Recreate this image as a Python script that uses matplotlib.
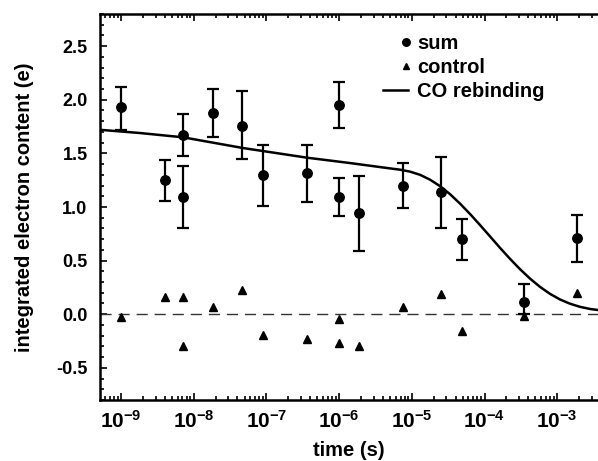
import matplotlib.pyplot as plt
from matplotlib.legend_handler import HandlerLine2D
from matplotlib.ticker import FixedLocator, MultipleLocator, LogLocator, NullFormatter
import numpy as np

plt.rcParams['font.family'] = ['Liberation Sans', 'DejaVu Sans']
plt.rcParams['font.weight'] = 'bold'
plt.rcParams['mathtext.fontset'] = 'custom'
plt.rcParams['mathtext.rm'] = 'Liberation Sans:bold'
plt.rcParams['mathtext.default'] = 'rm'

# sum of electron content, with error bars
sum_t = [1.0e-9, 4.0e-9, 7.1e-9, 7.1e-9, 1.84e-8, 4.6e-8, 9.0e-8, 3.6e-7,
         1.0e-6, 1.0e-6, 1.9e-6, 7.6e-6, 2.5e-5, 4.9e-5, 3.5e-4, 1.87e-3]
sum_y = [1.93, 1.25, 1.67, 1.09, 1.88, 1.76, 1.30, 1.32,
         1.95, 1.09, 0.94, 1.20, 1.14, 0.70, 0.11, 0.71]
sum_lo = [1.72, 1.06, 1.48, 0.80, 1.65, 1.45, 1.01, 1.05,
          1.74, 0.92, 0.59, 0.99, 0.80, 0.51, 0.00, 0.49]
sum_hi = [2.12, 1.44, 1.87, 1.38, 2.10, 2.08, 1.58, 1.58,
          2.17, 1.27, 1.29, 1.41, 1.47, 0.89, 0.28, 0.93]

# control measurements
ctrl_t = [1.0e-9, 4.0e-9, 7.1e-9, 7.1e-9, 1.84e-8, 4.6e-8, 9.0e-8, 3.6e-7,
          1.0e-6, 1.0e-6, 1.9e-6, 7.6e-6, 2.5e-5, 4.9e-5, 3.5e-4, 1.87e-3]
ctrl_y = [-0.03, 0.16, 0.16, -0.30, 0.07, 0.23, -0.19, -0.23,
          -0.04, -0.27, -0.30, 0.07, 0.19, -0.16, -0.02, 0.20]

# CO rebinding curve
co_t = [5.14e-10, 1.82e-9, 7.13e-9, 4.76e-8, 3.61e-7, 1.41e-6, 5.01e-6,
        6.88e-6, 9.44e-6, 1.30e-5, 1.78e-5, 2.44e-5, 3.35e-5, 4.60e-5,
        6.32e-5, 8.67e-5, 1.19e-4, 1.63e-4, 2.24e-4, 3.08e-4, 4.23e-4,
        5.80e-4, 7.96e-4, 1.09e-3, 1.50e-3, 2.06e-3, 2.83e-3, 3.64e-3]
co_y = [1.72, 1.69, 1.65, 1.55, 1.46, 1.41, 1.36,
        1.348, 1.330, 1.300, 1.255, 1.195, 1.12, 1.032,
        0.935, 0.832, 0.726, 0.62, 0.517, 0.42, 0.332,
        0.255, 0.19, 0.138, 0.098, 0.069, 0.049, 0.039]

x_major = [1e-9, 1e-8, 1e-7, 1e-6, 1e-5, 1e-4, 1e-3]
x_labels = [r'$10^{-9}$', r'$10^{-8}$', r'$10^{-7}$', r'$10^{-6}$',
            r'$10^{-5}$', r'$10^{-4}$', r'$10^{-3}$']


class RightMarker(HandlerLine2D):
    # marker-only handle: put the single marker at the right end of the handle
    def get_xdata(self, legend, xdescent, ydescent, width, height, fontsize):
        x = -xdescent + width - 1
        return np.array([x, x]), np.array([x])


fig = plt.figure(figsize=(5.98, 4.61), dpi=100)
ax = fig.add_axes([100 / 598, 1 - 400 / 461, 498 / 598, 386 / 461])

ax.axhline(0, color='#333333', lw=1.0, dashes=(8, 5))

co_line, = ax.plot(co_t, co_y, color='black', lw=1.8, solid_joinstyle='round')

yerr = [np.array(sum_y) - np.array(sum_lo), np.array(sum_hi) - np.array(sum_y)]
sum_pts = ax.errorbar(sum_t, sum_y, yerr=yerr, fmt='o', color='black', ms=6.8,
                      elinewidth=1.6, capsize=4, capthick=1.6)
ctrl_pts, = ax.plot(ctrl_t, ctrl_y, '^', color='black', ms=6, ls='none')

ax.set_xscale('log')
ax.set_xlim(5.14e-10, 3.64e-3)
ax.set_ylim(-0.8, 2.8)

ax.xaxis.set_major_locator(FixedLocator(x_major))
ax.set_xticklabels(x_labels)
ax.xaxis.set_minor_locator(LogLocator(base=10, subs=np.arange(2, 10), numticks=20))
ax.xaxis.set_minor_formatter(NullFormatter())
ax.yaxis.set_major_locator(FixedLocator([-0.5, 0.0, 0.5, 1.0, 1.5, 2.0, 2.5]))
ax.yaxis.set_minor_locator(MultipleLocator(0.1))
ax.set_yticklabels(['-0.5', '0.0', '0.5', '1.0', '1.5', '2.0', '2.5'])

ax.tick_params(which='both', direction='in', top=True, right=False, width=1.2)
ax.tick_params(which='major', length=5)
ax.tick_params(which='minor', length=3)
ax.tick_params(axis='y', which='major', labelsize=13, pad=9)
ax.tick_params(axis='x', which='major', labelsize=15, pad=7)
for s in ['left', 'bottom', 'top']:
    ax.spines[s].set_linewidth(1.8)
ax.spines['right'].set_visible(False)

ax.set_xlabel('time (s)', fontsize=14.5, fontweight='bold', labelpad=7)
ax.set_ylabel('integrated electron content (e)', fontsize=14.5, fontweight='bold', labelpad=16)

leg = ax.legend([sum_pts[0], ctrl_pts, co_line], ['sum', 'control', 'CO rebinding'],
                handler_map={sum_pts[0]: RightMarker(numpoints=1), ctrl_pts: RightMarker(numpoints=1)},
                loc='upper left', bbox_to_anchor=(0.531, 0.995), frameon=False,
                fontsize=14.5, handlelength=1.25, handletextpad=0.45, labelspacing=0.25,
                markerscale=0.8)

fig.savefig('out.png', dpi=100)
